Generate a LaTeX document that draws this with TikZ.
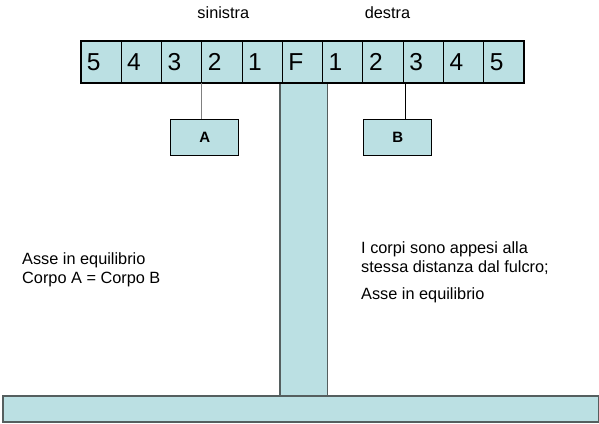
\documentclass[tikz,border=0pt]{standalone}
\usepackage{fontspec}
\setmainfont{Liberation Sans}
\definecolor{fillc}{RGB}{187,224,227}
\definecolor{edgeg}{RGB}{85,95,95}
\begin{document}
\begin{tikzpicture}[x=1bp,y=-1bp,
  cell/.style={draw=black, line width=0.8bp, fill=fillc, minimum width=40.3bp, minimum height=42bp, inner sep=0pt, outer sep=0pt},
  digit/.style={anchor=base west, inner sep=0pt, font=\fontsize{24.5bp}{29bp}\selectfont},
  weight/.style={draw=black, line width=0.9bp, fill=fillc, minimum width=68bp, minimum height=36bp, inner sep=0pt, outer sep=0pt, font=\bfseries\fontsize{15bp}{18bp}\selectfont},
  stand/.style={draw=edgeg, line width=1.4bp, fill=fillc, inner sep=0pt, outer sep=0pt},
  txt/.style={font=\fontsize{16.3bp}{18bp}\selectfont, inner sep=0pt, anchor=base west},
  side/.style={font=\fontsize{16.3bp}{18bp}\selectfont, inner sep=0pt, anchor=base},
  hanger/.style={line width=1bp}]
\useasboundingbox (0,0) rectangle (599,423);
% post and base
\node[stand, minimum width=47.3bp, minimum height=313bp] (post) at (303.7,239.5) {};
\node[stand, minimum width=595.5bp, minimum height=26bp] (base) at (300.75,409) {};
% beam cells
\foreach \i/\t in {1/5,2/4,3/3,4/2,5/1,6/F,7/1,8/2,9/3,10/4,11/5}{
  \node[cell] (c\i) at ({80.7+40.3*(\i-0.5)},62) {};
  \node[digit] (d\i) at ({80.7+40.3*(\i-1)+6},70.5) {\t};
}
\draw[line width=2bp] (c1.north west) rectangle (c11.south east);
% labels above
\node[side] (sin) at (223.3,18.3) {sinistra};
\node[side] (des) at (387.5,18.3) {destra};
% weights
\node[weight] (A) at (204.7,137.3) {A};
\node[weight] (B) at (397.7,137.3) {B};
\draw[hanger, draw=gray] (c4.south west) -- (c4.south west |- A.north);
\coordinate (hb) at (405.3,83);
\draw[hanger] (hb) -- (hb |- B.north);
% texts
\node[txt] (l1) at (22,264) {Asse in equilibrio};
\node[txt] (l2) at (22,283.5) {Corpo A = Corpo B};
\node[txt] (r1) at (361,253.5) {I corpi sono appesi alla};
\node[txt] (r2) at (361,272.5) {stessa distanza dal fulcro;};
\node[txt] (r3) at (361,299) {Asse in equilibrio};
\end{tikzpicture}
\end{document}
